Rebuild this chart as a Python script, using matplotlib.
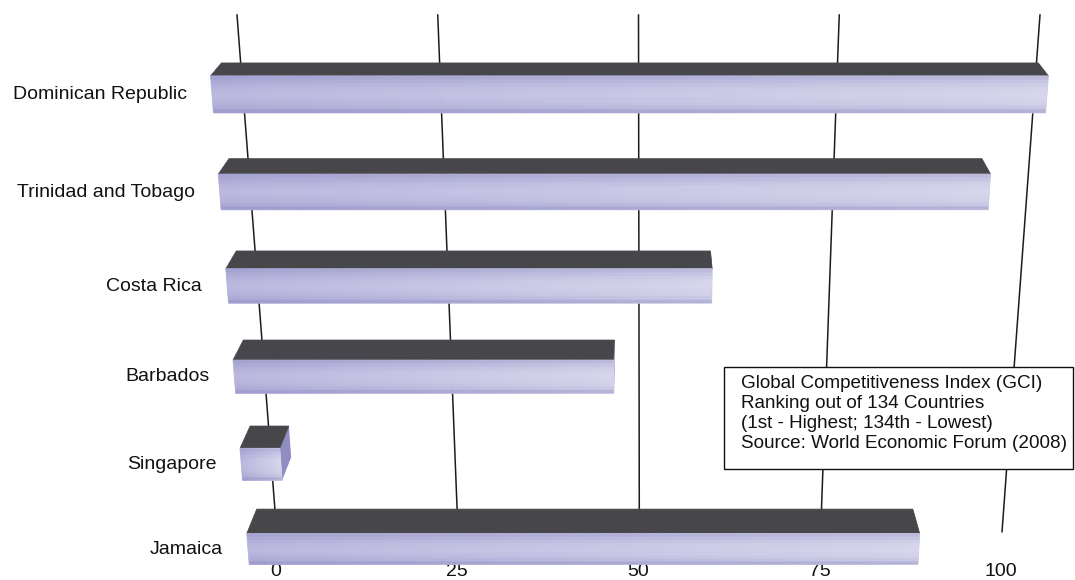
import numpy as np
import matplotlib
matplotlib.use("Agg")
import matplotlib.pyplot as plt
import matplotlib.transforms as mtransforms
from matplotlib.patches import Polygon, Rectangle
from matplotlib.colors import to_rgb

plt.rcParams['font.family'] = ['Liberation Sans', 'DejaVu Sans']

# GCI 2008 ranks
countries = ["Dominican Republic", "Trinidad and Tobago", "Costa Rica",
             "Barbados", "Singapore", "Jamaica"]
ranks = [98, 92, 59, 47, 5, 86]
ticks = [0, 25, 50, 75, 100]
note = ["Global Competitiveness Index (GCI)",
        "Ranking out of 134 Countries",
        "(1st - Highest; 134th - Lowest)",
        "Source: World Economic Forum (2008)"]

W, H = 1075, 580
fig = plt.figure(figsize=(W / 100, H / 100), dpi=100)
ax = fig.add_axes([0, 0, 1, 1])
ax.set_xlim(0, 100)
ax.set_ylim(5.5, -0.5)
ax.axis('off')


class Persp(mtransforms.Transform):
    # axes fraction -> figure fraction, tilted plane (lower rows look further away)
    input_dims = 2
    output_dims = 2
    is_separable = False

    def __init__(self, left, width, xvan, top, height, p):
        super().__init__()
        self.left, self.width, self.xvan = left, width, xvan
        self.top, self.height, self.p = top, height, p

    def transform_non_affine(self, pts):
        pts = np.asarray(pts, float)
        a = pts[:, 0]
        u = 1 - pts[:, 1]
        d = 1 + self.p * u
        x = self.xvan + (self.left - self.xvan + a * self.width) / d
        y = self.top + self.height * u / d
        return np.column_stack([x / W, 1 - y / H])


front_p = ax.transScale + ax.transLimits + Persp(208, 860, 638, 44.4, 607, 0.1118)
# depth: shrink toward vanishing point above the chart
depth = (mtransforms.Affine2D().translate(-645 / W, -(1 + 444 / H))
         .scale(0.975).translate(645 / W, 1 + 444 / H))
back_p = front_p + depth
front = front_p + fig.transFigure
wall = ax.transScale + ax.transLimits + Persp(237, 803, 647, 15, 572, 0.107) + fig.transFigure

# back wall grid lines
for t in ticks:
    ax.plot([t, t], [-0.5, 5.5], color='#1c1c1c', lw=1.1, transform=wall, zorder=1)
    ax.text(t, 5.5, str(t), transform=wall + mtransforms.Affine2D().translate(-1, -40),
            ha='center', va='center', fontsize=14, color='#111111')

hh = 0.373
c_left = np.array(to_rgb('#b5b3db'))
c_right = np.array(to_rgb('#d3d2ea'))
nseg = 40
# vertical shading of the front face, top -> bottom (+ darker, - lighter)
shade = [0.22, 0.12, 0.04, -0.04, -0.08, -0.08, -0.04, 0.02, 0.10, 0.30]

for r, (name, v) in enumerate(zip(countries, ranks)):
    top, bot = r - hh / 2, r + hh / 2
    # right side face
    side = np.vstack([front_p.transform([(v, top), (v, bot)]),
                      back_p.transform([(v, bot), (v, top)])])
    ax.add_patch(Polygon(side, closed=True, transform=fig.transFigure,
                         facecolor='#8f8dc2', edgecolor='none', zorder=2))
    # top face
    lid = np.vstack([front_p.transform([(0, top), (v, top)]),
                     back_p.transform([(v, top), (0, top)])])
    ax.add_patch(Polygon(lid, closed=True, transform=fig.transFigure,
                         facecolor='#47464b', edgecolor='#47464b', lw=0.5, zorder=3))
    # front face, light gets brighter toward the end of the bar
    sw = v / nseg
    for k in range(nseg):
        c = c_left + (c_right - c_left) * (k + 0.5) / nseg
        ax.barh(r, sw, left=k * sw, height=hh, color=c, edgecolor=c, lw=0.6,
                transform=front, zorder=4)
    bh = hh / len(shade)
    for i, s in enumerate(shade):
        ax.barh(top + (i + 0.5) * bh, v, height=bh,
                color='#6f6db0' if s > 0 else 'white', alpha=abs(s),
                lw=0, transform=front, zorder=5)
    ax.text(0, r, name, transform=front + mtransforms.Affine2D().translate(-25, 0),
            ha='right', va='center', fontsize=14, color='#111111')

# note box
fig.add_artist(Rectangle((724 / W, 1 - 469 / H), (1073 - 724) / W, (469 - 367) / H,
                         transform=fig.transFigure, facecolor='white',
                         edgecolor='#111111', lw=1.0, zorder=8))
fig.text(741 / W, 1 - 375 / H, "\n".join(note), ha='left', va='top',
         fontsize=13.6, linespacing=1.22, color='#111111', zorder=9)

fig.savefig("out.png", dpi=100)
